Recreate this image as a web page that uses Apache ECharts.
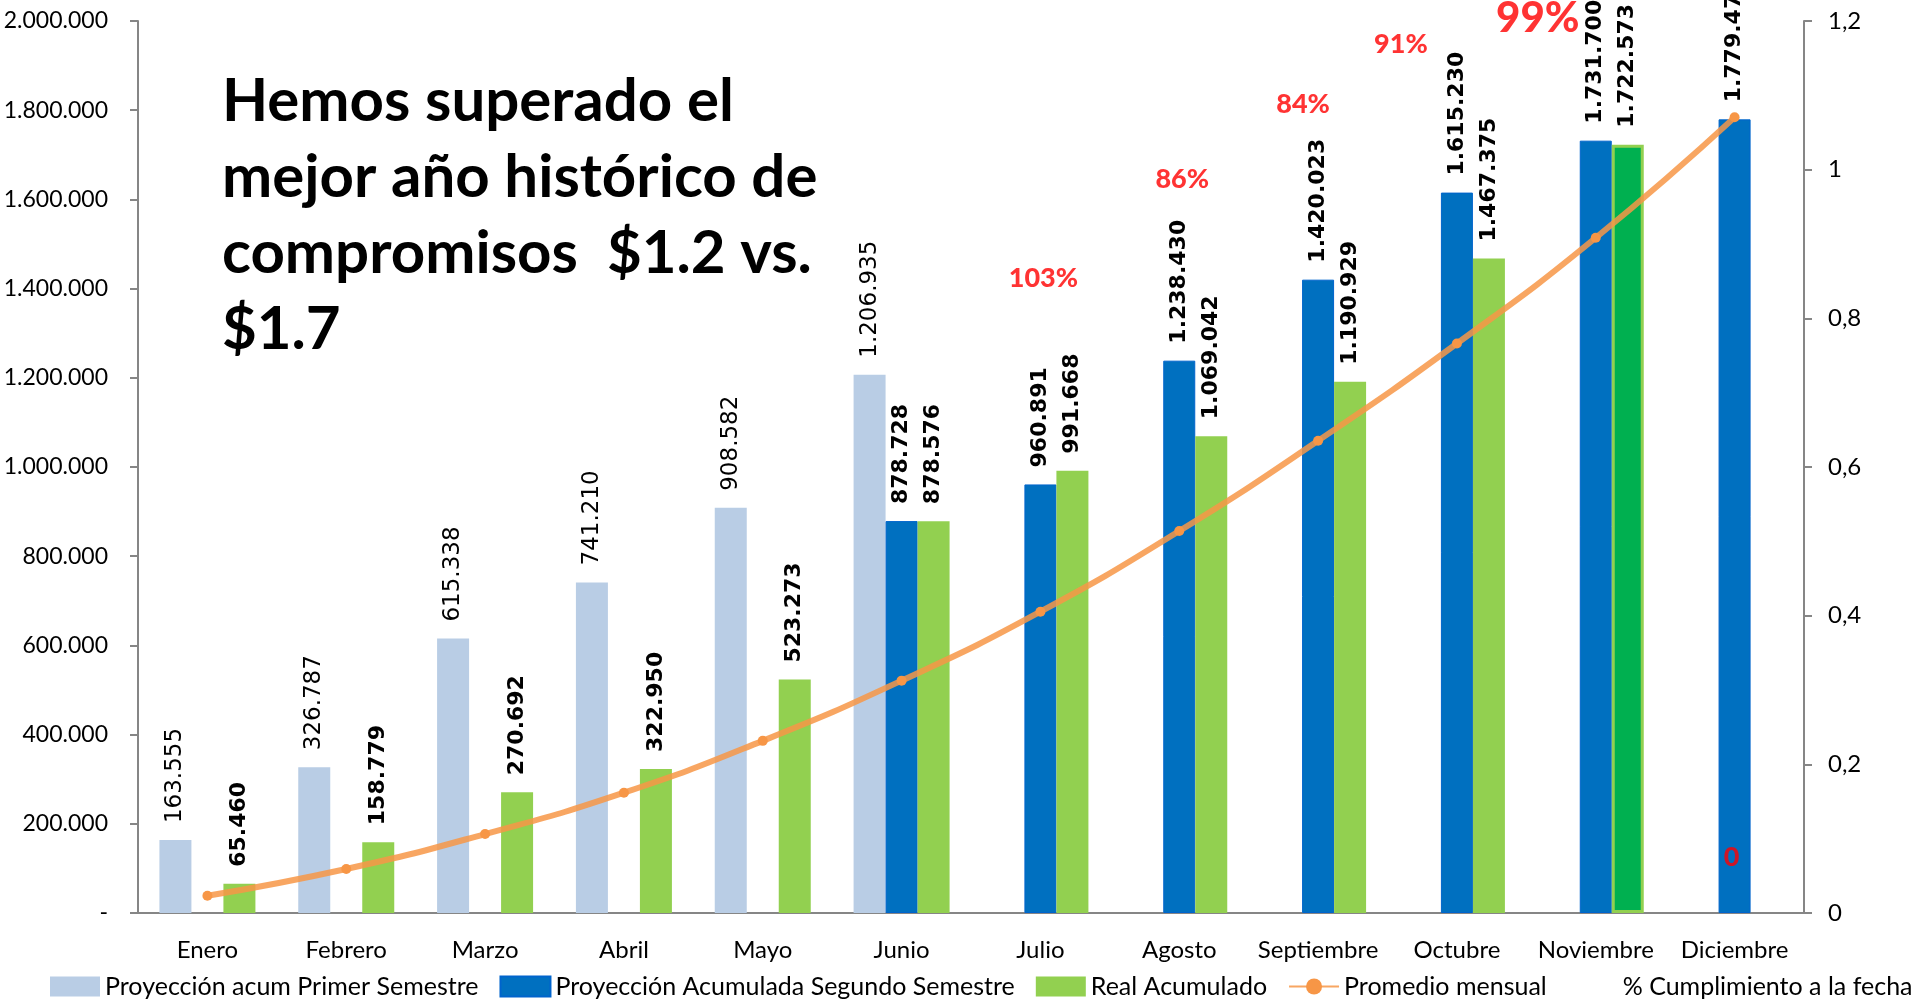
<!DOCTYPE html>
<html>
<head>
<meta charset="utf-8">
<script src="https://cdn.jsdelivr.net/npm/echarts@6/dist/echarts.min.js"></script>
<style>
  html, body { margin: 0; padding: 0; background: #fff; }
  #chart { width: 1911px; height: 1000px; }
</style>
</head>
<body>
<div id="chart"></div>
<script>
var months = ['Enero', 'Febrero', 'Marzo', 'Abril', 'Mayo', 'Junio', 'Julio', 'Agosto', 'Septiembre', 'Octubre', 'Noviembre', 'Diciembre'];
var proyPrimer = [163555, 326787, 615338, 741210, 908582, 1206935, null, null, null, null, null, null];
var proySegundo = [null, null, null, null, null, 878728, 960891, 1238430, 1420023, 1615230, 1731700, 1779478];
var realAcum = [65460, 158779, 270692, 322950, 523273, 878576, 991668, 1069042, 1190929, 1467375, 1722573, null];
var promedio = [38800, 98700, 177000, 269700, 386000, 521000, 675600, 856500, 1059000, 1277000, 1514000, 1784000];
var cumplimiento = [null, null, null, null, null, null, 1.03, 0.86, 0.84, 0.91, 0.99, 0];
// where each % label sits relative to its point (hand placed in the original)
var pctShift = [null, null, null, null, null, null, [3, 131], [3, -94], [-15, -184], [-56, -192], [-58, -159], [-3, -56]];

var leftTicks = { min: 0, max: 2000000, interval: 200000 };
var rightTicks = { min: 0, max: 1.2, interval: 0.2 };

function fmtMiles(v) {
    if (v === 0) return '-';
    return String(Math.round(v)).replace(/\B(?=(\d{3})+(?!\d))/g, '.');
}

var myChart = echarts.init(document.getElementById('chart'));

var axisGray = '#868686';
var txtFont = 'Lato';

function barLabel(bold) {
    return {
        show: true,
        position: 'top',
        rotate: 90,
        align: 'left',
        verticalAlign: 'middle',
        distance: 17,
        fontFamily: 'DejaVu Sans',
        fontSize: bold ? 22 : 23,
        fontWeight: bold ? 'bold' : 'normal',
        color: '#000',
        formatter: function (p) { return fmtMiles(p.value); }
    };
}

var realData = realAcum.map(function (v, i) {
    if (i === 10) {
        return { value: v, itemStyle: { color: '#00B050', borderColor: '#92D050', borderWidth: 3 } };
    }
    return v;
});

var pctData = cumplimiento.map(function (v, i) {
    if (v === null) return null;
    var big = (i === 10);
    return {
        value: v,
        label: {
            offset: pctShift[i],
            fontSize: big ? 42 : 27
        }
    };
});

var option = {
    animation: false,
    backgroundColor: '#fff',
    title: {
        text: 'Hemos superado el\nmejor año histórico de\ncompromisos  $1.2 vs.\n$1.7',
        left: 217,
        top: 59,
        textStyle: {
            fontFamily: txtFont,
            fontWeight: 'bold',
            fontSize: 60,
            lineHeight: 76,
            color: '#000'
        }
    },
    legend: {
        bottom: -4,
        left: 50,
        width: 1900,
        padding: [5, 0],
        itemWidth: 50,
        itemHeight: 20,
        itemGap: 21,
        textStyle: { fontFamily: txtFont, fontSize: 25, color: '#000' },
        data: [
            { name: 'Proyección acum Primer Semestre', icon: 'rect' },
            { name: 'Proyección Acumulada Segundo Semestre', icon: 'rect' },
            { name: 'Real Acumulado', icon: 'rect' },
            { name: 'Promedio mensual' },
            { name: '% Cumplimiento a la fecha', icon: 'rect', itemStyle: { opacity: 0 } }
        ]
    },
    grid: { left: 138, right: 107, top: 21, bottom: 87 },
    xAxis: {
        type: 'category',
        data: months,
        axisLine: { lineStyle: { color: axisGray, width: 2 } },
        axisTick: { length: 10, lineStyle: { color: axisGray, width: 2 } },
        axisLabel: { fontFamily: txtFont, fontSize: 24, color: '#000', margin: 25, interval: 0 }
    },
    yAxis: [
        {
            type: 'value',
            min: leftTicks.min,
            max: leftTicks.max,
            interval: leftTicks.interval,
            splitLine: { show: false },
            axisLine: { show: true, lineStyle: { color: axisGray, width: 2 } },
            axisTick: { show: true, length: 8, lineStyle: { color: axisGray, width: 2 } },
            axisLabel: { fontFamily: txtFont, fontSize: 23, color: '#000', margin: 30, formatter: fmtMiles }
        },
        {
            type: 'value',
            min: rightTicks.min,
            max: rightTicks.max,
            interval: rightTicks.interval,
            splitLine: { show: false },
            axisLine: { show: true, lineStyle: { color: axisGray, width: 2 } },
            axisTick: { show: true, length: 8, lineStyle: { color: axisGray, width: 2 } },
            axisLabel: {
                fontFamily: txtFont, fontSize: 24, color: '#000', margin: 24,
                formatter: function (v) { return String(Math.round(v * 10) / 10).replace('.', ','); }
            }
        }
    ],
    series: [
        {
            name: 'Proyección acum Primer Semestre',
            type: 'bar',
            barWidth: 32,
            barGap: '0%',
            itemStyle: { color: '#B9CDE5' },
            label: barLabel(false),
            data: proyPrimer
        },
        {
            name: 'Proyección Acumulada Segundo Semestre',
            type: 'bar',
            barWidth: 32,
            barGap: '0%',
            itemStyle: { color: '#0070C0', borderColor: '#0064CC', borderWidth: 1 },
            label: barLabel(true),
            data: proySegundo
        },
        {
            name: 'Real Acumulado',
            type: 'bar',
            barWidth: 32,
            barGap: '0%',
            itemStyle: { color: '#92D050' },
            label: barLabel(true),
            data: realData
        },
        {
            name: 'Promedio mensual',
            type: 'line',
            smooth: true,
            symbol: 'circle',
            symbolSize: 10,
            z: 5,
            itemStyle: { color: '#F79646' },
            lineStyle: { color: '#F79646', width: 6, opacity: 0.85 },
            data: promedio
        },
        {
            name: '% Cumplimiento a la fecha',
            type: 'scatter',
            yAxisIndex: 1,
            symbolSize: 1,
            z: 6,
            itemStyle: { color: 'rgba(0,0,0,0)' },
            label: {
                show: true,
                position: 'inside',
                fontFamily: txtFont,
                fontWeight: 900,
                color: '#FF0000',
                formatter: function (p) {
                    return p.value === 0 ? '0' : Math.round(p.value * 100) + '%';
                }
            },
            data: pctData
        }
    ]
};

myChart.setOption(option);
</script>
</body>
</html>
